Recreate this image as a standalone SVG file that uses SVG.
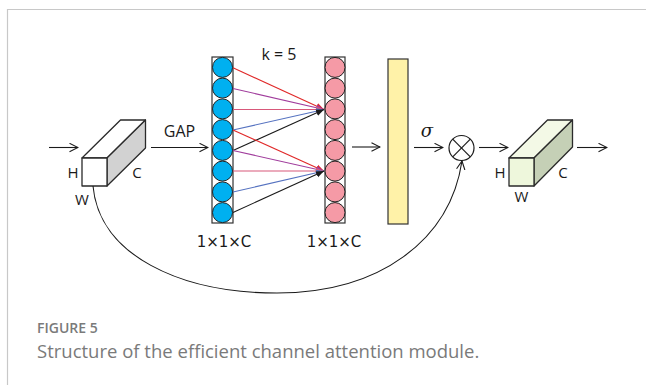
<svg xmlns="http://www.w3.org/2000/svg" width="646" height="385" viewBox="0 0 646 385">
<defs>
<style>
.lbl{font-family:"Open Sans","Liberation Sans",sans-serif;font-size:15px;fill:#1a1a1a}
.dim{font-family:"DejaVu Sans","Liberation Sans",sans-serif;font-size:15px;fill:#1a1a1a}
.edge{fill:none;stroke:#1a1a1a;stroke-width:1.1}
.cube{stroke:#2a2a2a;stroke-width:1.3;stroke-linejoin:round}
.conv{fill:none;stroke-width:1.1}
.cap{font-family:"Open Sans","Liberation Sans",sans-serif;fill:#7a7a7a}
</style>
<marker id="open" viewBox="0 0 10 10" refX="9" refY="5" markerWidth="10" markerHeight="10" markerUnits="userSpaceOnUse" orient="auto">
<path d="M0.5,0.8 L9,5 L0.5,9.2" fill="none" stroke="#1a1a1a" stroke-width="1.1"/>
</marker>
<marker id="hRed" viewBox="0 0 10 10" refX="10" refY="5" markerWidth="8" markerHeight="8" markerUnits="userSpaceOnUse" orient="auto"><path d="M0,1 L10,5 L0,9 Z" fill="#e02828"/></marker>
<marker id="hPur" viewBox="0 0 10 10" refX="10" refY="5" markerWidth="8" markerHeight="8" markerUnits="userSpaceOnUse" orient="auto"><path d="M0,1 L10,5 L0,9 Z" fill="#a03c9c"/></marker>
<marker id="hPnk" viewBox="0 0 10 10" refX="10" refY="5" markerWidth="8" markerHeight="8" markerUnits="userSpaceOnUse" orient="auto"><path d="M0,1 L10,5 L0,9 Z" fill="#d8587a"/></marker>
<marker id="hBlu" viewBox="0 0 10 10" refX="10" refY="5" markerWidth="8" markerHeight="8" markerUnits="userSpaceOnUse" orient="auto"><path d="M0,1 L10,5 L0,9 Z" fill="#5572c0"/></marker>
<marker id="hBlk" viewBox="0 0 10 10" refX="10" refY="5" markerWidth="8" markerHeight="8" markerUnits="userSpaceOnUse" orient="auto"><path d="M0,1 L10,5 L0,9 Z" fill="#1a1a1a"/></marker>
</defs>
<rect width="646" height="385" fill="#ffffff"/>
<polyline points="7.5,385 7.5,9.5 646,9.5" fill="none" stroke="#c8c8c8" stroke-width="1.2"/>

<g id="input-cube">
<polygon class="cube" points="82,158 120.5,120 145.5,120 107,158" fill="#ffffff"/>
<polygon class="cube" points="107,158 145.5,120 145.5,148 107,186" fill="#d2d2d2"/>
<rect class="cube" x="82" y="158" width="25" height="28" fill="#ffffff"/>
<text class="lbl" x="73" y="178" text-anchor="middle">H</text>
<text class="lbl" x="137" y="178" text-anchor="middle">C</text>
<text class="lbl" x="82" y="205" text-anchor="middle">W</text>
</g>

<g id="gap-vector">
<rect x="212" y="57" width="21" height="166" fill="#ffffff" stroke="#333" stroke-width="1.2"/>
<g fill="#00b0f0" stroke="#222" stroke-width="1">
<circle cx="222.5" cy="67.4" r="10"/>
<circle cx="222.5" cy="88.1" r="10"/>
<circle cx="222.5" cy="108.9" r="10"/>
<circle cx="222.5" cy="129.6" r="10"/>
<circle cx="222.5" cy="150.4" r="10"/>
<circle cx="222.5" cy="171.1" r="10"/>
<circle cx="222.5" cy="191.9" r="10"/>
<circle cx="222.5" cy="212.6" r="10"/>
</g>
<text class="dim" x="224" y="247" text-anchor="middle">1×1×C</text>
</g>

<g id="conv-vector">
<rect x="325" y="57" width="20" height="166" fill="#ffffff" stroke="#333" stroke-width="1.2"/>
<g fill="#f59aa6" stroke="#222" stroke-width="1">
<circle cx="335" cy="67.4" r="10"/>
<circle cx="335" cy="88.1" r="10"/>
<circle cx="335" cy="108.9" r="10"/>
<circle cx="335" cy="129.6" r="10"/>
<circle cx="335" cy="150.4" r="10"/>
<circle cx="335" cy="171.1" r="10"/>
<circle cx="335" cy="191.9" r="10"/>
<circle cx="335" cy="212.6" r="10"/>
</g>
<text class="dim" x="334" y="247" text-anchor="middle">1×1×C</text>
</g>

<g id="weights">
<rect x="388" y="59" width="20" height="165" fill="#fff2a8" stroke="#333" stroke-width="1.2"/>
</g>

<g id="multiply">
<circle cx="461.5" cy="148" r="12.5" fill="#ffffff" stroke="#1a1a1a" stroke-width="1.2"/>
<line x1="452.7" y1="139.2" x2="470.3" y2="156.8" stroke="#1a1a1a" stroke-width="1.2"/>
<line x1="470.3" y1="139.2" x2="452.7" y2="156.8" stroke="#1a1a1a" stroke-width="1.2"/>
</g>

<g id="output-cube">
<polygon class="cube" points="509,158 547.5,120 572.5,120 534,158" fill="#f3f9e6"/>
<polygon class="cube" points="534,158 572.5,120 572.5,147 534,186" fill="#c5d0b6"/>
<rect class="cube" x="509" y="158" width="25" height="28" fill="#eef7dc"/>
<text class="lbl" x="500" y="178" text-anchor="middle">H</text>
<text class="lbl" x="563" y="178" text-anchor="middle">C</text>
<text class="lbl" x="521.5" y="202" text-anchor="middle">W</text>
</g>

<g id="connectors">
<line class="edge" x1="49" y1="147.5" x2="78" y2="147.5" marker-end="url(#open)"/>
<line class="edge" x1="151" y1="147.5" x2="208" y2="147.5" marker-end="url(#open)"/>
<line class="edge" x1="352" y1="147" x2="380" y2="147" marker-end="url(#open)"/>
<line class="edge" x1="414" y1="147.5" x2="443" y2="147.5" marker-end="url(#open)"/>
<line class="edge" x1="479" y1="147.5" x2="508" y2="147.5" marker-end="url(#open)"/>
<line class="edge" x1="577" y1="147.5" x2="607" y2="147.5" marker-end="url(#open)"/>
<path class="edge" d="M93,186 C99,255 180,293 277,293 C380,293 450,240 462,161" marker-end="url(#open)"/>

<line class="conv" stroke="#e02828" x1="233" y1="67.8" x2="324" y2="109.5" marker-end="url(#hRed)"/>
<line class="conv" stroke="#a03c9c" x1="233" y1="88.5" x2="324" y2="109.5" marker-end="url(#hPur)"/>
<line class="conv" stroke="#d8587a" x1="233" y1="109.5" x2="324" y2="109.5" marker-end="url(#hPnk)"/>
<line class="conv" stroke="#5572c0" x1="233" y1="130" x2="324" y2="109.5" marker-end="url(#hBlu)"/>
<line class="conv" stroke="#1a1a1a" x1="233" y1="150.5" x2="324" y2="109.5" marker-end="url(#hBlk)"/>

<line class="conv" stroke="#e02828" x1="233" y1="130" x2="324" y2="171" marker-end="url(#hRed)"/>
<line class="conv" stroke="#a03c9c" x1="233" y1="150.5" x2="324" y2="171" marker-end="url(#hPur)"/>
<line class="conv" stroke="#d8587a" x1="233" y1="171" x2="324" y2="171" marker-end="url(#hPnk)"/>
<line class="conv" stroke="#5572c0" x1="233" y1="192" x2="324" y2="171" marker-end="url(#hBlu)"/>
<line class="conv" stroke="#1a1a1a" x1="233" y1="212.5" x2="324" y2="171" marker-end="url(#hBlk)"/>

<text class="lbl" x="179.5" y="137" text-anchor="middle" style="font-size:16px">GAP</text>
<text class="lbl" x="279" y="59.5" text-anchor="middle" style="font-size:16px">k = 5</text>
<text x="427" y="137" text-anchor="middle" font-family="'DejaVu Serif','Liberation Serif',serif" font-style="italic" font-size="18" fill="#1a1a1a">σ</text>
</g>

<text class="cap" x="37" y="333" font-size="14" font-weight="600">FIGURE 5</text>
<text class="cap" x="37" y="357.5" font-size="18.5">Structure of the efficient channel attention module.</text>
</svg>
